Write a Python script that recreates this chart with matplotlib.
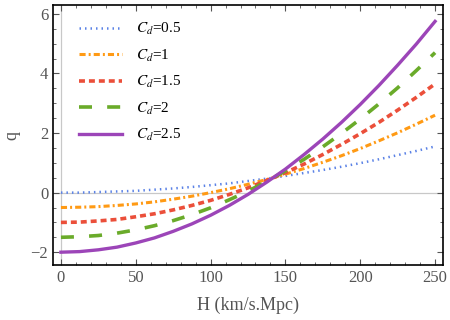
import numpy as np
import matplotlib
matplotlib.use("Agg")
import matplotlib.pyplot as plt
from matplotlib.ticker import MultipleLocator

plt.rcParams['font.family'] = ['Liberation Serif', 'DejaVu Serif']
plt.rcParams['mathtext.fontset'] = 'stix'

# values
H = [0, 12.5, 25, 37.5, 50, 62.5, 75, 87.5, 100, 112.5, 125,
     137.5, 150, 162.5, 175, 187.5, 200, 212.5, 225, 237.5, 250]
q_05 = [0.00, 0.00, 0.02, 0.04, 0.06, 0.10, 0.14, 0.19, 0.25, 0.31, 0.39,
        0.47, 0.56, 0.66, 0.76, 0.87, 0.99, 1.12, 1.26, 1.40, 1.55]
q_10 = [-0.50, -0.49, -0.47, -0.43, -0.38, -0.31, -0.22, -0.12, -0.00, 0.13, 0.28,
        0.44, 0.62, 0.81, 1.02, 1.24, 1.48, 1.74, 2.01, 2.30, 2.60]
q_15 = [-1.00, -0.99, -0.95, -0.90, -0.81, -0.71, -0.58, -0.43, -0.26, -0.06, 0.16,
        0.41, 0.67, 0.96, 1.28, 1.62, 1.98, 2.36, 2.77, 3.20, 3.65]
q_20 = [-1.50, -1.48, -1.44, -1.36, -1.25, -1.11, -0.94, -0.74, -0.51, -0.24, 0.05,
        0.38, 0.73, 1.12, 1.54, 1.99, 2.47, 2.98, 3.52, 4.10, 4.70]
q_25 = [-2.00, -1.98, -1.92, -1.83, -1.69, -1.52, -1.30, -1.05, -0.76, -0.43, -0.06,
        0.35, 0.79, 1.28, 1.80, 2.36, 2.96, 3.60, 4.28, 4.99, 5.75]

labels = [r'$C_d$=0.5', r'$C_d$=1', r'$C_d$=1.5', r'$C_d$=2', r'$C_d$=2.5']
series = [q_05, q_10, q_15, q_20, q_25]
colors = ['#5b82e6', '#ff9a14', '#eb4f3a', '#6aab2a', '#9c45b8']
styles = [(0, (0.6, 1.6)), (0, (2, 1, 0.65, 1)), (0, (1.65, 1.1)), (0, (3.6, 4.2)), '-']
widths = [1.8, 2.2, 2.6, 2.6, 2.4]

fig = plt.figure(figsize=(4.5, 3.2), dpi=100)
ax = fig.add_axes([53/450, 1 - 265/320, 390/450, 260/320])

ax.axhline(0, color='#c8c8c8', lw=0.9, zorder=1)
ax.axvline(0, color='#c8c8c8', lw=0.9, zorder=1)

for y, lab, c, ls, lw in zip(series, labels, colors, styles, widths):
    ax.plot(H, y, color=c, ls=ls, lw=lw, label=lab, zorder=2)

ax.set_xlim(-5.3, 255.3)
ax.set_ylim(-2.43, 6.3)
ax.xaxis.set_major_locator(MultipleLocator(50))
ax.xaxis.set_minor_locator(MultipleLocator(10))
ax.yaxis.set_major_locator(MultipleLocator(2))
ax.yaxis.set_minor_locator(MultipleLocator(0.5))
ax.tick_params(which='both', direction='in', top=True, right=True,
               labelsize=12, labelcolor='#555555', color='#555555')
ax.tick_params(which='major', length=4, width=0.8)
ax.tick_params(which='minor', length=2.5, width=0.6)
ax.set_yticks([-2, 0, 2, 4, 6])
ax.set_yticklabels(['\u22122', '0', '2', '4', '6'])
for s in ax.spines.values():
    s.set_linewidth(1.2)

ax.set_xlabel('H (km/s.Mpc)', fontsize=13, color='#555555', labelpad=8)
ax.set_ylabel('q', fontsize=13, color='#555555', labelpad=7)

leg = ax.legend(loc='upper left', bbox_to_anchor=(0.032, 0.99), frameon=False,
                fontsize=11, handlelength=2.8, labelspacing=0.68, handletextpad=0.9)

fig.savefig('out.png', dpi=100)
